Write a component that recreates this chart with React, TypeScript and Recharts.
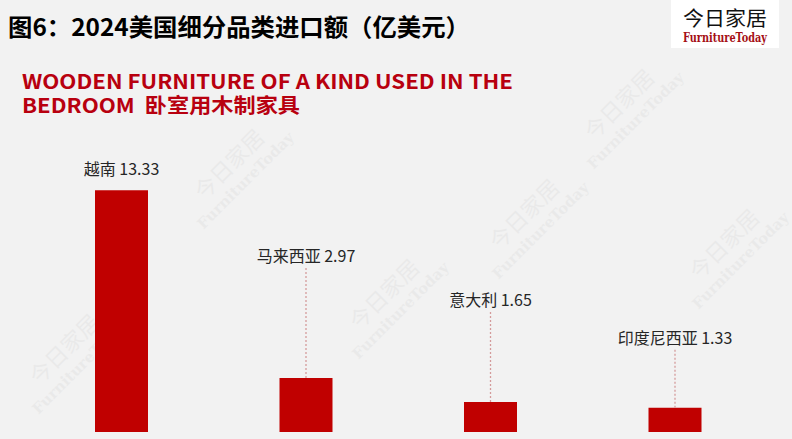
import { BarChart, Bar, XAxis, YAxis, LabelList } from "recharts";

const countries = ["越南", "马来西亚", "意大利", "印度尼西亚"];
const imports = [13.33, 2.97, 1.65, 1.33];

const data = countries.map((name, i) => ({ name, value: imports[i] }));

// label distance above each bar top, as the labels were dragged in the source
const LABEL_LIFT = [22, 123, 103, 71];

const WATERMARKS = [
  [235, 170],
  [625, 110],
  [390, 300],
  [530, 220],
  [70, 355],
  [730, 250],
];

const RED = "#c00000";
const CJK = "'Noto Sans CJK SC', 'Noto Sans', sans-serif";

function CountryLabel(props: any) {
  const { x, y, width, value, index } = props;
  const cx = x + width / 2;
  const lift = LABEL_LIFT[index] ?? 20;
  const ty = y - lift;
  return (
    <g>
      {lift > 40 && (
        <line
          x1={cx}
          x2={cx}
          y1={ty + 13}
          y2={y}
          stroke="#d49b9b"
          strokeWidth={1.3}
          strokeDasharray="2 2"
        />
      )}
      <text
        x={cx}
        y={ty}
        textAnchor="middle"
        dominantBaseline="central"
        fontSize={16}
        fill="#262626"
        fontFamily={CJK}
      >
        {`${countries[index]} ${Number(value).toFixed(2)}`}
      </text>
    </g>
  );
}

export default function App() {
  return (
    <div
      style={{
        position: "fixed",
        left: 0,
        top: 0,
        width: 792,
        height: 439,
        background: "#f2f2f2",
        overflow: "hidden",
      }}
    >
      <svg width={792} height={439} style={{ position: "absolute", left: 0, top: 0 }}>
        {WATERMARKS.map(([wx, wy], i) => (
          <g key={i} transform={`translate(${wx},${wy}) rotate(-45)`} fill="#000" opacity={0.03}>
            <text x={0} y={0} textAnchor="middle" fontSize={22} fontFamily={CJK}>
              今日家居
            </text>
            <text x={0} y={20} textAnchor="middle" fontSize={15} fontFamily="'DejaVu Serif', serif" fontWeight={700}>
              FurnitureToday
            </text>
          </g>
        ))}
      </svg>

      <div style={{ position: "absolute", left: 0, top: 0 }}>
        <BarChart
          width={792}
          height={439}
          data={data}
          margin={{ top: 178, right: 25, bottom: 7, left: 29 }}
        >
          <XAxis dataKey="name" hide />
          <YAxis hide domain={[0, 14]} />
          <Bar dataKey="value" fill={RED} barSize={53} isAnimationActive={false}>
            <LabelList dataKey="value" content={CountryLabel} />
          </Bar>
        </BarChart>
      </div>

      <svg width={792} height={439} style={{ position: "absolute", left: 0, top: 0, pointerEvents: "none" }}>
        <text
          x={8}
          y={25}
          dominantBaseline="central"
          fontSize={24}
          fontWeight={700}
          fontFamily={CJK}
          fill="#000"
          textLength={462}
          lengthAdjust="spacingAndGlyphs"
        >
          图6：2024美国细分品类进口额（亿美元）
        </text>
        <text
          dominantBaseline="central"
          fontSize={20}
          fontWeight={700}
          fontFamily={CJK}
          fill="#b8000f"
        >
          <tspan x={22} y={80} textLength={491} lengthAdjust="spacingAndGlyphs">
            WOODEN FURNITURE OF A KIND USED IN THE
          </tspan>
          <tspan x={22} y={104} textLength={278} lengthAdjust="spacingAndGlyphs">
            {"BEDROOM\u00a0\u00a0卧室用木制家具"}
          </tspan>
        </text>

        <rect x={671} y={0} width={108} height={48} fill="#fff" />
        <text
          x={725}
          y={17}
          textAnchor="middle"
          dominantBaseline="central"
          fontSize={20}
          fontFamily={CJK}
          fill="#111"
          textLength={84}
          lengthAdjust="spacingAndGlyphs"
        >
          今日家居
        </text>
        <text
          x={725}
          y={38}
          textAnchor="middle"
          dominantBaseline="central"
          fontSize={12}
          fontWeight={700}
          fontFamily="'DejaVu Serif', serif"
          fill="#a50f15"
          textLength={84}
          lengthAdjust="spacingAndGlyphs"
        >
          FurnitureToday
        </text>
      </svg>
    </div>
  );
}
